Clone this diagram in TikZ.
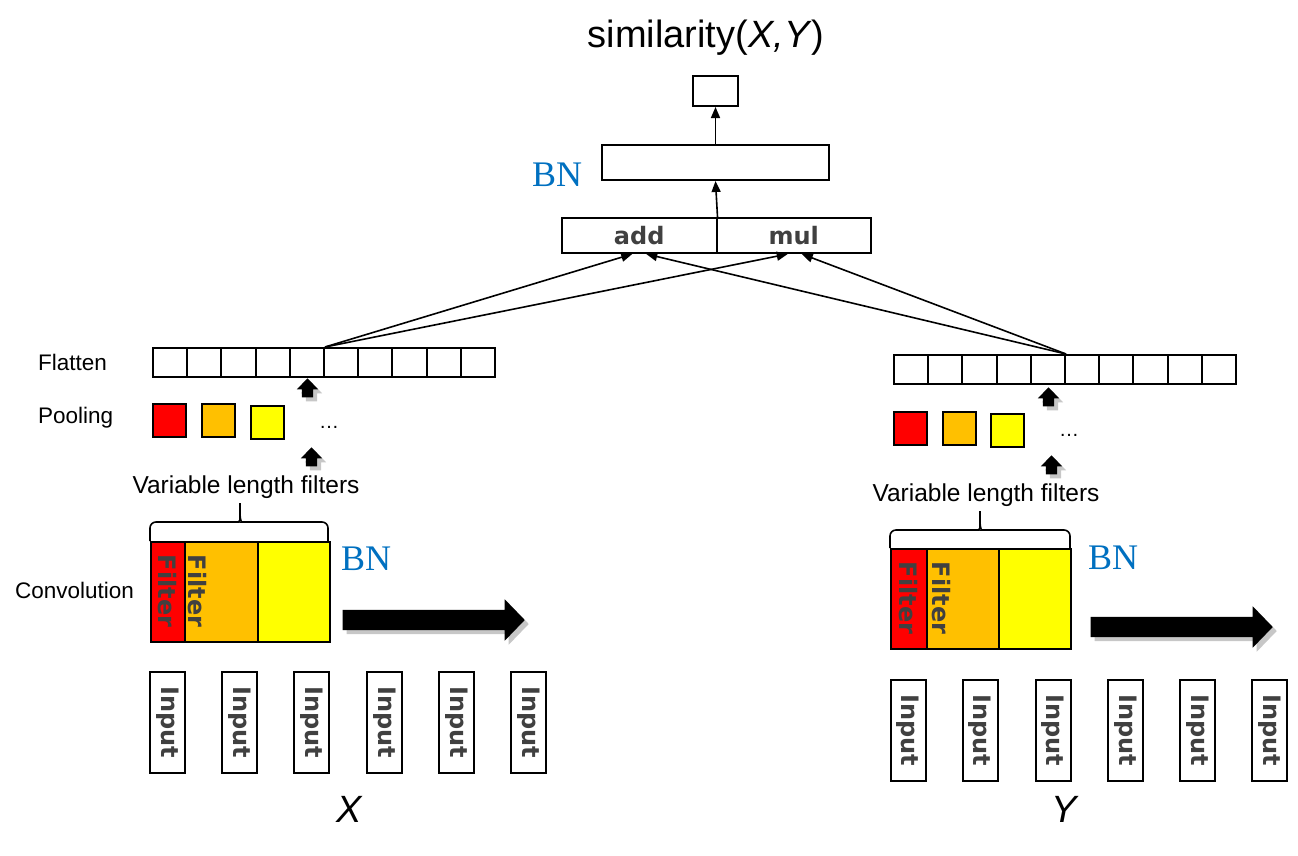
\documentclass[tikz,border=0pt]{standalone}
\usepackage{fontspec}
\setmainfont{Liberation Sans}
\newfontfamily\bnfont{Liberation Serif}
\newfontfamily\lblfont{DejaVu Sans}
\usetikzlibrary{arrows.meta,shapes.arrows,shadows}

\definecolor{cred}{HTML}{FF0000}
\definecolor{corange}{HTML}{FFC000}
\definecolor{cyellow}{HTML}{FFFF00}
\definecolor{bnblue}{HTML}{0070C0}
\definecolor{txtgray}{HTML}{404040}

\tikzset{
  box/.style={draw, line width=2pt, inner sep=0pt},
  cell/.style={box, minimum width=34.2pt, minimum height=29pt, anchor=north west},
  pool/.style={box, minimum width=33pt, minimum height=33pt, anchor=north west},
  seg/.style={box, minimum height=100pt, anchor=north west},
  inbox/.style={box, rotate=-90, minimum width=101pt, minimum height=35pt,
    font=\lblfont\bfseries\fontsize{24pt}{24pt}\selectfont, text=txtgray},
  filtertext/.style={rotate=-90, inner sep=0pt,
    font=\lblfont\bfseries\fontsize{24pt}{24pt}\selectfont, text=txtgray},
  opbox/.style={box, minimum width=154.5pt, minimum height=35pt, anchor=north west,
    font=\lblfont\bfseries\fontsize{24pt}{24pt}\selectfont, text=txtgray},
  layer/.style={anchor=base west, inner sep=0pt, font=\fontsize{22.5pt}{22.5pt}\selectfont},
  filters/.style={anchor=base, inner sep=0pt, font=\fontsize{24.5pt}{24.5pt}\selectfont},
  bn/.style={inner sep=0pt, text=bnblue, font=\bnfont\fontsize{36pt}{36pt}\selectfont},
  dotsl/.style={inner sep=0pt, anchor=base, font=\fontsize{20pt}{20pt}\selectfont},
  conn/.style={line width=1.6pt, -{Triangle[length=11pt,width=9pt]}},
  bracepath/.style={line width=1.6pt, rounded corners=6pt},
  shadowed/.style={drop shadow={shadow xshift=4pt, shadow yshift=-4pt, fill=black!22, opacity=1}},
  uparrow/.style={single arrow, fill=black, draw=none, inner sep=5.5pt, anchor=tip,
    minimum height=19pt, minimum width=21pt, single arrow head extend=5pt,
    single arrow tip angle=88, shape border rotate=90, shadowed},
  bigarrow/.style={single arrow, fill=black, draw=none, inner xsep=0pt, inner ysep=10pt, anchor=tip,
    minimum height=182pt, minimum width=41pt, single arrow head extend=10.5pt,
    single arrow tip angle=92, shadowed}
}

\begin{document}
\begin{tikzpicture}[x=1pt,y=-1pt]
  \useasboundingbox (0,0) rectangle (1298,855);

  % top of the network
  \node[anchor=base, inner sep=0pt, font=\fontsize{38pt}{38pt}\selectfont] (sim) at (706,47) {similarity(\textit{X,Y})};
  \node[box, minimum width=45pt, minimum height=30pt] (out) at (715.5,91) {};
  \node[box, minimum width=227pt, minimum height=35pt] (bnbox) at (715.5,162.5) {};
  \node[bn] (bntop) at (557,175) {BN};
  \node[opbox] (add) at (561,217) {add};
  \node[opbox] (mul) at (715.5,217) {mul};

  \draw[conn] (add.north east) -- (bnbox.south);
  \draw[conn] (bnbox.north) -- (out.south);

  % flatten rows
  \foreach \i in {0,...,9}
    \node[cell] (fl\i) at ({152+34.2*\i},347) {};
  \foreach \i in {0,...,9}
    \node[cell] (fr\i) at ({893+34.2*\i},354) {};

  \draw[conn] (fl4.north east) -- ([xshift=-7pt]add.south);
  \draw[conn] (fl4.north east) -- ([xshift=-6pt]mul.south);
  \draw[conn] (fr4.north east) -- ([xshift=7pt]add.south);
  \draw[conn] (fr4.north east) -- ([xshift=8pt]mul.south);

  % left branch
  \node[layer] (flatten) at (38,370) {Flatten};
  \node[layer] (pooling) at (38,423) {Pooling};
  \node[layer] (convolution) at (15,598) {Convolution};

  \node[pool, fill=cred] (pl1) at (152,403) {};
  \node[pool, fill=corange] (pl2) at (201,403) {};
  \node[pool, fill=cyellow] (pl3) at (250,405) {};
  \node[dotsl] (pldots) at (329,428) {…};

  \node[uparrow] (upl1) at (307.5,378) {};
  \node[uparrow] (upl2) at (311.5,447) {};

  \node[filters] (vlfl) at (246,493) {Variable length filters};
  \draw[bracepath] (150,541) -- (150,522) -- (233,522) .. controls (238,522) and (240,520) .. (240,514) -- (240,503);
  \draw[bracepath] (240,514) .. controls (240,520) and (242,522) .. (247,522) -- (328,522) -- (328,541);

  \node[seg, fill=cred, minimum width=34pt] (cl1) at (150,541) {};
  \node[seg, fill=corange, minimum width=73pt] (cl2) at (184,541) {};
  \node[seg, fill=cyellow, minimum width=72pt] (cl3) at (257,541) {};
  \node[filtertext] (fil1) at (167,591) {Filter};
  \node[filtertext] (fil2) at (197,591) {Filter};
  \node[bn] (bnl) at (366,559) {BN};
  \node[bigarrow] (arrl) at (525,620) {};

  \foreach \i/\xx in {1/167.5,2/239.5,3/311.5,4/384.5,5/456.5,6/528.5}
    \node[inbox] (inl\i) at (\xx,722) {Input};
  \node[anchor=base, inner sep=0pt, font=\fontsize{38pt}{38pt}\selectfont] (labx) at (350,822) {\textit{X}};

  % right branch
  \node[pool, fill=cred] (pr1) at (893,411) {};
  \node[pool, fill=corange] (pr2) at (942,411) {};
  \node[pool, fill=cyellow] (pr3) at (990,413) {};
  \node[dotsl] (prdots) at (1069,436) {…};

  \node[uparrow] (upr1) at (1048.5,387) {};
  \node[uparrow] (upr2) at (1051.5,455) {};

  \node[filters] (vlfr) at (986,501) {Variable length filters};
  \draw[bracepath] (890,548) -- (890,530) -- (973,530) .. controls (978,530) and (980,528) .. (980,522) -- (980,511);
  \draw[bracepath] (980,522) .. controls (980,528) and (982,530) .. (987,530) -- (1070,530) -- (1070,548);

  \node[seg, fill=cred, minimum width=36pt] (cr1) at (890,548) {};
  \node[seg, fill=corange, minimum width=72pt] (cr2) at (926,548) {};
  \node[seg, fill=cyellow, minimum width=72pt] (cr3) at (998,548) {};
  \node[filtertext] (fir1) at (908,598) {Filter};
  \node[filtertext] (fir2) at (941,598) {Filter};
  \node[bn] (bnr) at (1113,558) {BN};
  \node[bigarrow] (arrr) at (1273,627) {};

  \foreach \i/\xx in {1/908,2/980,3/1053,4/1125.5,5/1197.5,6/1269.5}
    \node[inbox] (inr\i) at (\xx,730) {Input};
  \node[anchor=base, inner sep=0pt, font=\fontsize{38pt}{38pt}\selectfont] (laby) at (1065,822) {\textit{Y}};
\end{tikzpicture}
\end{document}
